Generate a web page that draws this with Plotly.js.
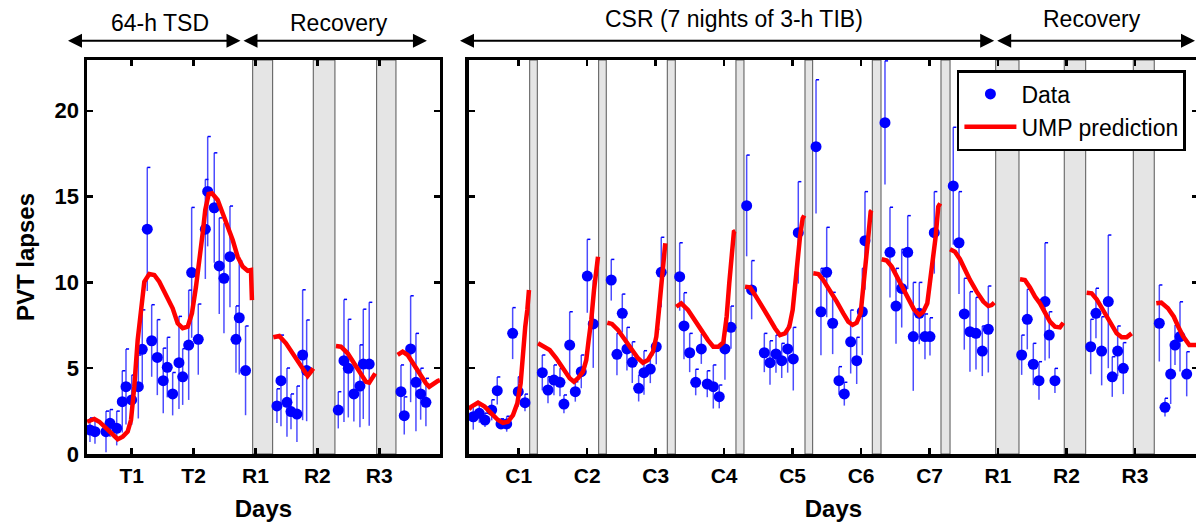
<!DOCTYPE html>
<html><head><meta charset="utf-8">
<script src="https://cdn.plot.ly/plotly-3.0.1.min.js"></script>
<style>html,body{margin:0;padding:0;overflow:hidden;background:#fff}#chart{width:1200px;height:522px}</style>
</head><body><div id="chart"></div><script>
// ---------- Left panel: 64-h TSD + recovery ----------
const tsdTickVals = [1, 2, 3, 4, 5];
const tsdTickText = ['T1', 'T2', 'R1', 'R2', 'R3'];
const tsdDay = [0.326,0.407,0.585,0.65,0.758,0.848,0.908,1.0,1.107,1.171,1.252,1.323,1.414,1.51,1.575,1.662,1.764,1.824,1.921,1.969,2.076,2.19,2.228,2.334,2.415,2.491,2.588,2.685,2.738,2.84,
  3.347,3.412,3.509,3.574,3.67,3.762,3.827,
  4.338,4.43,4.5,4.59,4.688,4.742,4.838,
  5.351,5.404,5.507,5.593,5.669,5.754];
const tsdLapses = [1.40,1.30,1.30,1.79,1.50,3.05,3.92,3.15,3.92,6.10,13.1,6.60,5.63,4.27,5.05,3.50,5.32,4.50,6.35,10.57,6.68,13.1,15.3,14.35,10.96,10.24,11.5,6.68,7.94,4.86,
  2.80,4.27,3.01,2.47,2.33,5.77,4.86,
  2.56,5.44,4.99,3.50,3.96,5.24,5.24,
  3.63,2.23,6.12,4.18,3.50,3.01];
const tsdErr = [0.7,0.7,1.2,0.8,1.0,1.8,2.2,1.45,1.85,2.3,3.6,2.1,2.2,1.9,1.75,1.25,2.7,1.64,3.2,3.8,2.06,2.9,3.2,3.2,2.8,3.2,2.95,1.95,3.3,2.6,
  1.0,2.66,2.0,1.03,1.63,3.8,2.95,
  1.07,3.57,2.86,1.6,2.4,3.2,3.6,
  1.56,1.1,3.1,2.85,1.5,1.4];
const tsdModelDay = [0.28,0.396,0.477,0.585,0.693,0.774,0.855,0.935,0.989,1.042,1.097,1.15,1.204,1.284,1.365,1.446,1.554,1.662,1.743,1.824,1.905,1.974,2.039,2.092,2.147,2.189,2.244,2.297,2.389,2.47,2.551,2.632,2.712,2.793,2.874,2.927,2.943,null,
  3.288,3.385,3.493,3.601,3.708,3.788,3.843,3.897,3.934,null,
  4.30,4.381,4.489,4.596,4.704,4.785,4.838,4.893,4.935,null,
  5.297,5.378,5.459,5.566,5.674,5.754,5.808,5.888,5.943,5.98];
const tsdModel = [1.88,2.04,1.88,1.50,1.11,0.86,1.01,1.30,1.98,3.92,6.64,8.58,10.04,10.49,10.43,10.04,9.27,8.49,7.62,7.33,7.42,8.2,9.75,11.11,12.86,14.22,15.15,15.19,14.8,14.03,13.25,12.47,11.5,10.92,10.68,10.72,8.97,null,
  6.80,6.88,6.45,5.87,5.28,4.80,4.55,4.80,4.99,null,
  6.29,6.25,5.87,5.28,4.70,4.21,4.16,4.41,4.70,null,
  5.77,5.96,5.77,5.19,4.50,4.12,3.92,4.16,4.25,4.3];
const tsdSleepStart = [2.955, 3.934, 4.958];
const tsdSleepEnd = [3.278, 4.284, 5.27];

// ---------- Right panel: CSR + recovery ----------
const csrTickVals = [1, 2, 3, 4, 5, 6, 7, 8, 9, 10];
const csrTickText = ['C1', 'C2', 'C3', 'C4', 'C5', 'C6', 'C7', 'R1', 'R2', 'R3'];
const csrDay = [0.337,0.425,0.508,0.606,0.687,0.742,0.825,0.912,0.994,1.092,
  1.345,1.428,1.515,1.603,1.661,1.745,1.827,1.914,2.002,2.089,
  2.352,2.435,2.513,2.581,2.659,2.752,2.83,2.922,3.009,3.082,
  3.351,3.414,3.497,3.585,3.667,3.754,3.842,3.929,4.012,4.1,
  4.329,4.402,4.587,4.67,4.757,4.841,4.928,5.01,5.083,
  5.342,5.414,5.498,5.585,5.677,5.755,5.848,5.936,6.018,6.057,
  6.349,6.422,6.51,6.593,6.681,6.762,6.85,6.933,7.006,7.069,
  7.346,7.43,7.507,7.59,7.678,7.77,7.858,
  8.345,8.427,8.515,8.598,8.686,8.748,8.831,
  9.353,9.43,9.513,9.61,9.668,9.747,9.829,
  10.355,10.438,10.521,10.584,10.657,10.755];
const csrLapses = [2.17,2.37,1.98,2.56,3.69,1.75,1.75,7.03,3.63,2.99,
  4.74,3.73,4.31,4.18,2.91,6.35,3.63,4.80,10.37,7.58,
  10.14,5.81,8.2,6.12,5.34,3.83,4.74,4.95,6.25,10.59,
  10.33,7.46,5.90,4.18,6.12,4.08,3.92,3.34,6.12,7.38,
  14.47,9.56,5.90,5.32,5.83,5.44,6.12,5.54,12.90,
  17.91,8.29,10.59,7.62,4.27,3.50,6.54,5.44,8.29,12.43,
  19.31,11.75,8.62,9.65,11.75,6.84,8.2,6.84,6.84,12.90,
  15.62,12.31,8.16,7.13,7.03,6.00,7.27,
  5.77,7.85,5.23,4.27,8.88,6.93,4.27,
  6.25,8.20,6.00,8.88,4.50,6.00,4.99,
  7.62,2.72,4.66,6.35,6.84,4.66];
const csrErr = [0.75,0.55,0.4,0.6,0.8,0.3,0.45,1.5,0.87,0.5,
  1.03,0.77,0.88,0.81,0.53,1.94,0.58,0.97,2.14,2.56,
  1.2,1.22,1.12,1.26,1.2,0.77,1.28,0.82,1.02,2.04,
  1.98,1.94,1.13,0.76,0.87,0.77,1.27,0.68,1.79,1.24,
  2.95,1.71,1.13,1.28,1.1,1.01,1.38,1.84,2.97,
  3.9,2.53,2.62,1.8,0.82,0.68,1.85,1.36,2.53,2.86,
  3.6,2.63,2.2,2.28,2.14,3.16,1.8,1.32,1.1,2.39,
  3.42,2.98,2.08,2.33,2.1,1.46,2.52,
  1.16,1.75,1.22,1.11,3.43,1.36,0.72,
  1.6,1.46,2.0,3.88,1.17,1.46,1.5,
  2.23,0.53,1.75,1.17,2.03,1.3];
const csrModelDay = [0.274,0.308,0.406,0.503,0.6,0.698,0.771,0.844,0.917,0.98,1.029,1.063,1.096,1.126,1.15,null,
  1.282,1.355,1.453,1.549,1.647,1.745,1.808,1.866,1.939,1.987,2.022,2.06,2.1,2.133,2.158,null,
  2.294,2.362,2.45,2.548,2.644,2.742,2.815,2.888,2.961,3.01,3.044,3.074,3.107,3.141,null,
  3.301,3.374,3.472,3.57,3.667,3.764,3.842,3.915,3.988,4.037,4.075,4.11,4.143,4.165,null,
  4.305,4.378,4.451,4.548,4.645,4.743,4.816,4.889,4.952,5.001,5.035,5.068,5.108,5.147,5.17,null,
  5.302,5.375,5.448,5.546,5.644,5.74,5.813,5.877,5.936,5.994,6.032,6.066,6.105,6.14,6.155,null,
  6.301,6.374,6.447,6.52,6.607,6.689,6.772,6.85,6.908,6.967,7.006,7.045,7.089,7.127,7.155,null,
  7.299,7.371,7.444,7.517,7.59,7.688,7.785,7.858,7.907,7.945,null,
  8.321,8.393,8.466,8.539,8.612,8.685,8.758,8.831,8.904,8.953,null,
  9.294,9.367,9.44,9.513,9.586,9.659,9.732,9.805,9.878,9.951,null,
  10.311,10.384,10.481,10.567,10.632,10.705,10.793,10.92];
const csrModel = [2.6,2.76,2.99,2.76,2.37,1.98,1.82,1.88,2.27,2.95,4.12,6.06,7.42,8.39,9.56,null,
  6.45,6.29,6.06,5.58,4.99,4.41,4.21,4.41,4.80,5.48,6.64,7.81,9.56,10.92,11.5,null,
  7.65,7.58,7.23,6.64,6.06,5.58,5.32,5.48,5.96,6.84,8.20,9.56,10.92,12.28,null,
  8.58,8.78,8.39,7.81,7.13,6.64,6.25,6.25,6.5,8.0,9.95,11.5,12.95,13.0,null,
  9.75,9.71,9.27,8.68,8.0,7.33,6.93,7.03,7.42,8.39,9.95,11.31,12.66,13.73,13.9,null,
  10.53,10.49,10.14,9.56,8.88,8.20,7.71,7.52,7.65,8.20,9.56,11.11,12.66,14.12,14.2,null,
  11.35,11.27,10.92,10.33,9.66,9.02,8.43,8.10,8.29,8.78,9.95,11.11,12.66,14.41,14.6,null,
  11.93,11.79,11.35,10.72,10.14,9.46,8.88,8.62,8.68,8.82,null,
  10.18,10.14,9.71,9.17,8.78,8.2,7.71,7.42,7.38,7.65,null,
  9.40,9.36,9.02,8.49,8.0,7.46,7.03,6.80,6.80,7.03,null,
  8.78,8.82,8.49,8.0,7.42,6.84,6.35,6.35];
const csrSleepStart = [1.161, 2.168, 3.170, 4.173, 5.181, 6.164, 7.167, 7.966, 8.967, 9.975];
const csrSleepEnd = [1.272, 2.279, 3.287, 4.29, 5.293, 6.291, 7.299, 8.306, 9.28, 10.281];

const yTicks = [0, 5, 10, 15, 20];

// ---------- build ----------
const BLUE = '#0000ff', RED = '#ff0000';
function caps(days, vals, errs, len) {
  const xs = [], ys = [];
  for (let i = 0; i < days.length; i++) {
    xs.push(days[i], days[i] + len, null);
    ys.push(vals[i] + errs[i], vals[i] + errs[i], null);
  }
  return {xs, ys};
}
function dataTrace(days, vals, errs, xa, ya, show) {
  return {x: days, y: vals, xaxis: xa, yaxis: ya, type: 'scatter', mode: 'markers', name: 'Data',
    showlegend: show, legendrank: 1,
    marker: {color: BLUE, size: 11},
    error_y: {type: 'data', array: errs, visible: true, color: 'rgba(0,0,255,0.7)', thickness: 1.5, width: 0}};
}
function capTrace(c, xa, ya) {
  return {x: c.xs, y: c.ys, xaxis: xa, yaxis: ya, type: 'scatter', mode: 'lines', showlegend: false,
    line: {color: BLUE, width: 1.5}, hoverinfo: 'skip'};
}
function modelTrace(days, vals, xa, ya, show) {
  return {x: days, y: vals, xaxis: xa, yaxis: ya, type: 'scatter', mode: 'lines', name: 'UMP prediction',
    showlegend: show, legendrank: 2, connectgaps: false, line: {color: RED, width: 4.5}};
}
const tsdCaps = caps(tsdDay, tsdLapses, tsdErr, 0.05);
const csrCaps = caps(csrDay, csrLapses, csrErr, 0.045);

const traces = [
  dataTrace(csrDay, csrLapses, csrErr, 'x2', 'y2', true),
  capTrace(csrCaps, 'x2', 'y2'),
  dataTrace(tsdDay, tsdLapses, tsdErr, 'x', 'y', false),
  capTrace(tsdCaps, 'x', 'y'),
  modelTrace(csrModelDay, csrModel, 'x2', 'y2', true),
  modelTrace(tsdModelDay, tsdModel, 'x', 'y', false)
];

const shapes = [];
function addSleep(starts, ends, xref) {
  for (let i = 0; i < starts.length; i++) {
    shapes.push({type: 'rect', xref: xref, yref: 'paper', x0: starts[i], x1: ends[i], y0: 0, y1: 1,
      fillcolor: '#e5e5e5', line: {color: '#555', width: 1}, layer: 'below'});
  }
}
addSleep(tsdSleepStart, tsdSleepEnd, 'x');
addSleep(csrSleepStart, csrSleepEnd, 'x2');

const FONT = 'Liberation Sans, Arial, sans-serif';
function arrow(xref, head, tail) {
  return {xref: xref, yref: 'paper', x: head, y: 1.049, axref: xref, ayref: 'pixel', ax: tail, ay: 0,
    text: '', showarrow: true, arrowside: 'end+start', arrowhead: 2, startarrowhead: 2,
    arrowsize: 1.4, startarrowsize: 1.4, arrowwidth: 2, arrowcolor: '#000', standoff: 0, startstandoff: 0};
}
function label(xref, x, y, text) {
  return {xref: xref, yref: 'paper', x: x, y: y, text: text, showarrow: false,
    xanchor: 'center', yanchor: 'middle', font: {family: FONT, size: 23, color: '#000'}};
}
const annotations = [
  arrow('x', -0.029, 2.782), arrow('x', 5.77, 2.782),
  arrow('x2', 0.143, 7.966), arrow('x2', 10.876, 7.966),
  label('x', 1.465, 1.094, '64-h TSD'), label('x', 4.354, 1.094, 'Recovery'),
  label('x2', 4.144, 1.104, 'CSR (7 nights of 3-h TIB)'), label('x2', 9.367, 1.104, 'Recovery')
];

const axisBase = {showline: true, linewidth: 3.5, linecolor: '#000', mirror: 'ticks', ticks: 'inside',
  ticklen: 6, tickwidth: 2.5, tickcolor: '#000', showgrid: false, zeroline: false, fixedrange: true};
const xTickFont = {family: FONT, size: 21, weight: 'bold', color: '#000'};
const titleFont = {family: FONT, size: 24, weight: 'bold', color: '#000'};

const layout = {
  width: 1200, height: 522,
  margin: {l: 87, r: 2, t: 60, b: 68},
  paper_bgcolor: '#fff', plot_bgcolor: '#fff',
  font: {family: FONT, color: '#000'},
  hovermode: false,
  showlegend: true,
  xaxis: Object.assign({}, axisBase, {domain: [0, 0.3177], range: [0.278, 5.981], anchor: 'y',
    tickmode: 'array', tickvals: tsdTickVals, ticktext: tsdTickText, tickfont: xTickFont,
    title: {text: 'Days', font: titleFont, standoff: 15}}),
  yaxis: Object.assign({}, axisBase, {range: [0, 22.96], anchor: 'x', tickmode: 'array', tickvals: yTicks,
    tickfont: {family: FONT, size: 22, weight: 'bold', color: '#000'},
    title: {text: 'PVT lapses', font: titleFont, standoff: 14}}),
  xaxis2: Object.assign({}, axisBase, {domain: [0.3438, 1], range: [0.274, 10.92], anchor: 'y2',
    tickmode: 'array', tickvals: csrTickVals, ticktext: csrTickText, tickfont: xTickFont,
    title: {text: 'Days', font: titleFont, standoff: 15}}),
  yaxis2: Object.assign({}, axisBase, {range: [0, 22.96], anchor: 'x2', tickmode: 'array', tickvals: yTicks,
    showticklabels: false}),
  legend: {x: 0.783, y: 0.9746, xanchor: 'left', yanchor: 'top', bgcolor: '#fff', bordercolor: '#000',
    borderwidth: 2.5, itemwidth: 52, tracegroupgap: 0,
    font: {family: FONT, size: 23, color: '#000'}},
  shapes: shapes,
  annotations: annotations
};

Plotly.newPlot('chart', traces, layout, {displayModeBar: false, staticPlot: true});
</script></body></html>
